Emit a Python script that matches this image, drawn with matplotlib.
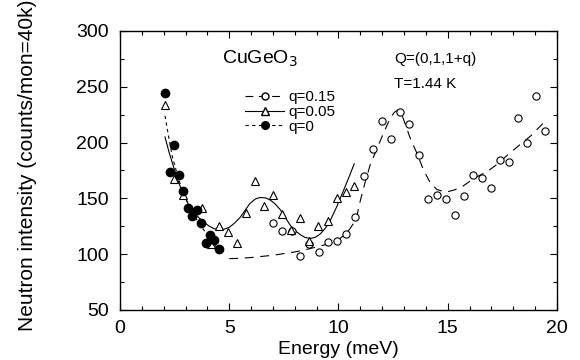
import matplotlib
matplotlib.use("Agg")
import matplotlib.pyplot as plt
from matplotlib.ticker import MultipleLocator
from matplotlib.lines import Line2D

plt.rcParams['font.family'] = ['Liberation Sans', 'DejaVu Sans']

# q=0.15 data (open circles)
e_q15 = [7.02, 7.43, 7.85, 8.26, 8.67, 9.10, 9.51, 9.92, 10.35, 10.75, 11.19, 11.60,
         11.99, 12.42, 12.83, 13.25, 13.68, 14.08, 14.50, 14.90, 15.35, 15.73, 16.14,
         16.55, 16.98, 17.39, 17.79, 18.20, 18.63, 19.04, 19.44]
i_q15 = [128, 121, 121, 98, 109, 102, 111, 112, 118, 133, 170, 194,
         219, 203, 227, 217, 189, 149, 153, 149, 135, 152, 171,
         168, 159, 184, 183, 222, 200, 242, 210]

# q=0.05 data (open triangles)
e_q05 = [2.06, 2.47, 2.87, 3.74, 4.15, 4.53, 4.95, 5.36, 5.77, 6.17, 6.60, 7.00,
         7.41, 7.83, 8.25, 8.67, 9.08, 9.51, 9.91, 10.34, 10.73]
i_q05 = [234, 167, 153, 141, 109, 125, 120, 110, 137, 166, 143, 153,
         136, 122, 132, 112, 125, 130, 150, 156, 161]

# q=0 data (filled circles)
e_q0 = [2.06, 2.28, 2.49, 2.70, 2.90, 3.10, 3.30, 3.51, 3.71, 3.94, 4.14, 4.32, 4.53]
i_q0 = [244, 174, 198, 171, 157, 141, 134, 140, 128, 110, 117, 113, 105]

# fitted curves
fit_e_q15 = [5.0, 5.5, 6.0, 6.5, 7.0, 7.5, 8.0, 8.5, 9.0, 9.5, 9.9, 10.2, 10.5, 10.7,
             10.85, 11.0, 11.2, 11.45, 11.75, 12.05, 12.35, 12.55, 12.7, 12.9, 13.1, 13.3,
             13.6, 13.9, 14.2, 14.5, 14.9, 15.3, 15.7, 16.2, 16.8, 17.3, 17.8, 18.3,
             18.8, 19.4]
fit_i_q15 = [96, 96.3, 97, 98, 99, 100.5, 102, 104, 106.5, 109, 112, 116, 122, 128,
             135, 148, 163, 180, 194, 208, 221, 227, 229, 225, 214, 203,
             190, 175, 164, 158, 155.5, 157.5, 161, 168, 174, 181, 190, 198,
             206, 218]

fit_e_q05 = [2.06, 2.25, 2.44, 2.63, 2.83, 3.02, 3.21, 3.4, 3.59, 3.82, 4.05, 4.28, 4.5,
             4.75, 5.0, 5.25, 5.5, 5.75, 5.95, 6.2, 6.4, 6.65, 6.87, 7.1, 7.33, 7.56,
             7.79, 8.02, 8.25, 8.47, 8.7, 8.93, 9.16, 9.39, 9.62, 9.93, 10.25, 10.5, 10.72]
fit_i_q05 = [205, 191, 179, 167, 157, 149, 142, 137, 133, 129, 125.5, 123, 122,
             122.3, 124, 128, 133, 140, 145.5, 149.5, 150.7, 150.5, 148.6, 145, 140, 133,
             126, 121, 117.5, 115, 114, 115, 118, 123, 130, 143, 158, 170, 181]

fit_e_q0 = [2.06, 2.2, 2.4, 2.7, 3.0, 3.3, 3.6, 3.9, 4.2, 4.4]
fit_i_q0 = [224, 208, 187, 166, 150, 138, 128, 120, 112, 107]

fig = plt.figure(figsize=(5.8, 3.6), dpi=100)
ax = fig.add_axes([0.2069, 0.139, 0.7534, 0.775])

ax.plot(fit_e_q15, fit_i_q15, color='black', lw=0.8, dashes=(8, 6))
ax.plot(fit_e_q05, fit_i_q05, color='black', lw=0.8)
ax.plot(fit_e_q0, fit_i_q0, color='black', lw=0.8, dashes=(3, 3))

ax.plot(e_q15, i_q15, 'o', ms=5.2, mfc='white', mec='black', mew=0.8, ls='none')
ax.plot(e_q05, i_q05, '^', ms=5.8, mfc='white', mec='black', mew=0.8, ls='none')
ax.plot(e_q0, i_q0, 'o', ms=6, mfc='black', mec='black', ls='none')

ax.set_xlim(0, 20)
ax.set_ylim(50, 300)
ax.xaxis.set_major_locator(MultipleLocator(5))
ax.xaxis.set_minor_locator(MultipleLocator(1))
ax.yaxis.set_major_locator(MultipleLocator(50))
ax.yaxis.set_minor_locator(MultipleLocator(25))
ax.tick_params(which='both', direction='in', top=True, right=True, labelsize=14, width=0.8)
ax.tick_params(which='major', length=5)
ax.tick_params(which='minor', length=3)
ax.tick_params(axis='y', which='major', pad=8)
ax.tick_params(axis='x', which='major', pad=7)
for s in ax.spines.values():
    s.set_linewidth(1.0)

ax.set_xlabel("Energy (meV)", fontsize=14, labelpad=3)
ax.set_ylabel("Neutron intensity (counts/mon=40k)", fontsize=15)
ax.yaxis.set_label_coords(-0.19, 0.52)

ax.text(0.32, 0.90, "CuGeO$_3$", transform=ax.transAxes, fontsize=14, ha='center', va='center')
ax.text(0.627, 0.90, "Q=(0,1,1+q)", transform=ax.transAxes, fontsize=11, ha='left', va='center')
ax.text(0.627, 0.81, "T=1.44 K", transform=ax.transAxes, fontsize=11, ha='left', va='center')

handles = [
    Line2D([], [], color='black', lw=0.8, dashes=(7, 5), marker='o', ms=5, mfc='white', mec='black'),
    Line2D([], [], color='black', lw=0.8, marker='^', ms=5.5, mfc='white', mec='black'),
    Line2D([], [], color='black', lw=0.8, dashes=(3, 3), marker='o', ms=5.5, mfc='black', mec='black'),
]
ax.legend(handles, ["q=0.15", "q=0.05", "q=0"], loc='upper left', bbox_to_anchor=(0.268, 0.815),
          frameon=False, fontsize=11, handlelength=2.6, handletextpad=0.25, labelspacing=0.05,
          borderpad=0)

fig.savefig("out.png", dpi=100)
